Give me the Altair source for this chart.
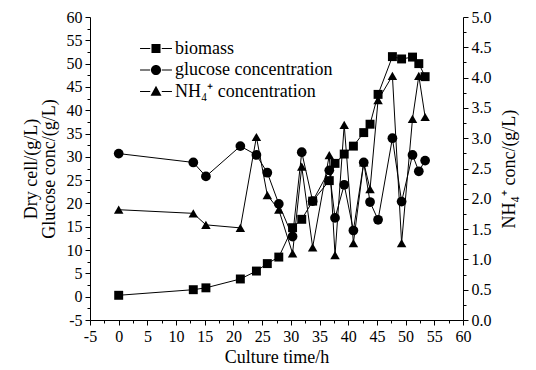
import altair as alt
import pandas as pd

# ---- data ----
time_h = [0, 13, 15.2, 21.2, 24.0, 25.9, 27.9, 30.3, 31.9, 33.8, 36.7, 37.7,
          39.3, 40.9, 42.7, 43.8, 45.2, 47.7, 49.3, 51.2, 52.3, 53.4]
biomass = [0.3, 1.5, 1.9, 3.8, 5.5, 7.1, 8.5, 14.8, 16.6, 20.5, 24.9, 28.6,
           30.6, 32.3, 35.2, 37.0, 43.4, 51.5, 51.0, 51.4, 50.0, 47.2]
glucose = [30.7, 28.8, 25.8, 32.3, 30.4, 26.6, 19.9, 12.9, 31.0, 20.5, 27.1, 16.9,
           24.0, 14.2, 28.8, 20.3, 16.5, 34.0, 20.4, 30.4, 26.9, 29.2]
nh4 = [1.82, 1.76, 1.57, 1.52, 3.02, 2.06, 1.82, 1.10, 2.53, 1.20, 2.72, 1.07,
       3.22, 1.27, 2.60, 2.16, 3.63, 4.03, 1.27, 3.32, 4.03, 3.35]
series_names = ["biomass", "glucose concentration", "NH\u2084\u207a concentration"]

x_ticks = [-5 + 2.5 * i for i in range(27)]
yl_ticks = [-5 + 2.5 * i for i in range(27)]
yr_ticks = [0.25 * i for i in range(21)]

df = pd.DataFrame({"time": time_h, "biomass": biomass, "glucose": glucose, "nh4": nh4})

FONT = "Liberation Serif"
FS = 16   # tick labels
TS = 18   # titles and legend

common_axis = dict(grid=False, domainColor="black", tickColor="black", labelColor="black",
                   titleColor="black", labelFont=FONT, labelFontSize=FS, titleFont=FONT,
                   titleFontSize=TS, titleFontWeight="normal", labelFlush=False,
                   labelOverlap=False, domainWidth=1, tickWidth=1)

x_axis = alt.Axis(values=x_ticks, title="Culture time/h",
                  labelExpr="datum.value % 5 === 0 ? '' + datum.value : ''",
                  tickSize={"condition": {"test": "datum.value % 5 === 0", "value": 5}, "value": 3},
                  labelPadding=3, titlePadding=4, **common_axis)
yl_axis = alt.Axis(values=yl_ticks, title=["Dry cell/(g/L)", "Glucose conc/(g/L)"],
                   labelExpr="datum.value % 5 === 0 ? '' + datum.value : ''",
                   tickSize={"condition": {"test": "datum.value % 5 === 0", "value": 5}, "value": 3},
                   labelPadding=3, titlePadding=8, titleLineHeight=18, **common_axis)
yr_axis = alt.Axis(values=yr_ticks, title="NH\u2084\u207a conc/(g/L)", orient="right",
                   labelExpr="abs(datum.value * 2 - round(datum.value * 2)) < 0.01 ? format(datum.value, '.1f') : ''",
                   tickSize={"condition": {"test": "abs(datum.value * 2 - round(datum.value * 2)) < 0.01", "value": 5}, "value": 3},
                   labelPadding=3, titlePadding=27, titleAngle=-90, **common_axis)

xs = alt.Scale(domain=[-5, 60], nice=False, zero=False)
yls = alt.Scale(domain=[-5, 60], nice=False, zero=False)
yrs = alt.Scale(domain=[0, 5], nice=False, zero=False)

X = alt.X("time:Q", scale=xs, axis=x_axis)

def left_y(field):
    return alt.Y(f"{field}:Q", scale=yls, axis=yl_axis)

base = alt.Chart(df)
MS = 80

bio_line = base.mark_line(color="black", strokeWidth=1).encode(x=X, y=left_y("biomass"))
bio_pt = base.mark_point(shape="square", filled=True, color="black", size=MS, opacity=1).encode(x=X, y=left_y("biomass"))
glu_line = base.mark_line(color="black", strokeWidth=1).encode(x=X, y=left_y("glucose"))
glu_pt = base.mark_point(shape="circle", filled=True, color="black", size=MS + 15, opacity=1).encode(x=X, y=left_y("glucose"))

# legend-only layer (no rows drawn; entries come from the explicit domain)
# symbol unit = sqrt(441)/2 = 10.5 px
dashes = "M-1.52,-0.05L-0.55,-0.05L-0.55,0.05L-1.52,0.05ZM0.55,-0.05L1.52,-0.05L1.52,0.05L0.55,0.05Z"
p_sq = dashes + "M-0.43,-0.43L0.43,-0.43L0.43,0.43L-0.43,0.43Z"
p_ci = dashes + "M0.48,0A0.48,0.48 0 1,1 -0.48,0A0.48,0.48 0 1,1 0.48,0Z"
p_tr = dashes + "M0,-0.55L0.52,0.4L-0.52,0.4Z"
SYM = 441

legend_layer = base.transform_filter("false").mark_point(
    filled=True, color="black", size=SYM, opacity=1
).encode(
    x=X, y=left_y("biomass"),
    shape=alt.Shape("series:N", scale=alt.Scale(domain=series_names, range=[p_sq, p_ci, p_tr]),
                    legend=alt.Legend(title=None, orient="none", legendX=55.5, legendY=21,
                                      symbolSize=SYM, symbolFillColor="black",
                                      symbolStrokeWidth=0,
                                      labelFont=FONT, labelFontSize=TS, labelColor="black",
                                      labelOffset=8.5, rowPadding=1.5, padding=0))
)

left = alt.layer(bio_line, bio_pt, glu_line, glu_pt, legend_layer)

nh_line = base.mark_line(color="black", strokeWidth=1).encode(
    x=X, y=alt.Y("nh4:Q", scale=yrs, axis=yr_axis))
nh_pt = base.mark_point(shape="triangle-up", filled=True, color="black", size=MS + 10, opacity=1).encode(
    x=X, y=alt.Y("nh4:Q", scale=yrs, axis=yr_axis))
right = alt.layer(nh_line, nh_pt)

chart = alt.layer(left, right).resolve_scale(y="independent").properties(
    width=373, height=303,
    autosize=alt.AutoSizeParams(type="none"),
    padding={"left": 90, "top": 17, "right": 73, "bottom": 50},
    background="white",
).configure_view(stroke=None)

chart.save("out.html", embed_options={"renderer": "svg", "actions": False})
